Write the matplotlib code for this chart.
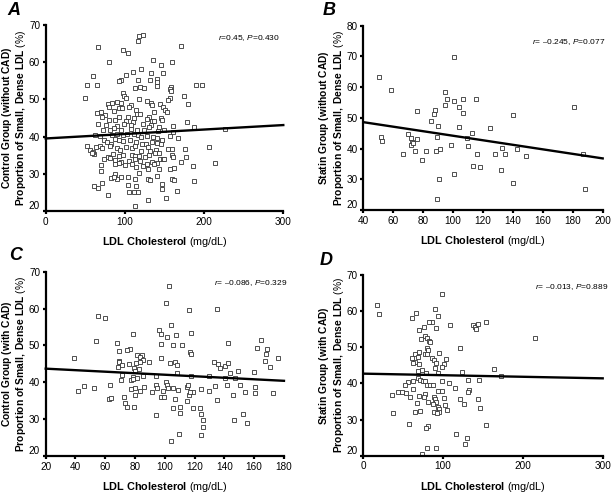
import numpy as np
import matplotlib
matplotlib.use("Agg")
import matplotlib.pyplot as plt

plt.rcParams['font.family'] = ['Liberation Sans', 'DejaVu Sans']
plt.rcParams['mathtext.fontset'] = 'custom'
plt.rcParams['mathtext.rm'] = 'Liberation Sans'
plt.rcParams['mathtext.bf'] = 'Liberation Sans:bold'
plt.rcParams['mathtext.it'] = 'Liberation Sans:italic'

# --- A: control group without CAD ---
a_ldl = [118, 123, 117, 66.5, 171, 98, 103.5, 135.5, 79.5, 159.5, 146, 120, 110.7, 132.5, 148, 101.4, 60.2,
         95.5, 92, 117, 132, 140, 140.5, 52, 64.5, 189.4, 197.8, 119, 124, 112.8, 158.6, 157.4, 158.6, 141,
         97.2, 99.3, 101.4, 175, 50, 157, 155, 118, 127.5, 78.3, 84, 90, 95, 107.7, 132.5, 133.8, 144.8, 180,
         80.4, 93, 96, 104.8, 147.7, 150.7, 152.8, 69.4, 64.4, 86.7, 114, 115.7, 119.5, 137, 75.3, 70.8, 93,
         103.5, 111, 130.4, 127.5, 146, 147.3, 80.4, 87.5, 101.8, 109.8, 133.8, 136.8, 66.5, 76.2, 98.9, 107.3,
         122.9, 133, 143.5, 161, 178, 187.7, 72.8, 81.2, 90.5, 86.7, 94.7, 107.3, 114.9, 124.1, 130.9, 141.4,
         149, 226, 62.3, 68.6, 83.3, 90.5, 97.2, 103.1, 112, 116.1, 120.3, 127.5, 135.9, 140.1, 147.3, 157,
         160.3, 167.5, 73.6, 77, 82.9, 88, 92.6, 98, 106.5, 114, 121.2, 126.2, 133.8, 141, 146, 52.6, 63.5,
         68.6, 70.7, 81.2, 90.5, 93.8, 101.4, 109, 112.8, 120.3, 129.2, 131.7, 139.3, 154.4, 159.9, 176.3,
         205.8, 56, 61.4, 60.2, 58.1, 79.1, 85.4, 92.6, 98, 109, 112.8, 117.8, 125.4, 130.9, 138.4, 142.6,
         144.7, 148, 149.8, 159, 161.2, 176.7, 170.8, 73.6, 81.2, 88, 95.1, 105.6, 112.8, 119, 127.5, 133.8,
         140, 69.8, 87.5, 93, 100.1, 109, 113.6, 122.5, 128.7, 137.2, 157.4, 162.4, 185.6, 214.2, 69.8, 82.5,
         88, 90.5, 86.7, 95.1, 104.4, 112.8, 117.8, 128.7, 131.7, 140.5, 143.5, 159.9, 162.4, 187.7, 70.7,
         61.4, 65.6, 146.4, 146.9, 165.4, 104.4, 114, 78.3, 105.2, 111.5, 116.1, 151.5, 129.6, 112.4]
a_sdldl = [67.1, 67.3, 65.7, 64.2, 64.4, 63.3, 62.4, 60.5, 60.1, 60.0, 59.3, 58.1, 57.4, 57.2, 57.1, 56.6, 56.4,
           55.2, 54.9, 55.2, 55.1, 55.5, 54.7, 53.9, 53.8, 53.9, 53.9, 53.4, 53.1, 53.0, 53.2, 52.7, 52.2, 53.6,
           51.8, 50.9, 50.4, 50.9, 50.3, 50.3, 49.8, 50.0, 49.6, 48.7, 48.9, 49.4, 48.9, 48.5, 49.1, 48.5, 48.7, 48.7,
           48.0, 47.8, 47.6, 48.0, 48.0, 47.1, 46.7, 46.7, 46.4, 46.9, 47.1, 46.2, 46.1, 46.7, 45.7, 45.3, 45.2,
           45.2, 44.9, 45.3, 44.8, 44.9, 44.4, 44.4, 44.4, 44.2, 44.0, 44.3, 44.3, 43.5, 43.1, 43.3, 43.2,
           43.4, 43.0, 42.7, 42.8, 43.8, 42.6, 41.9, 41.7, 42.8, 42.3, 41.9, 42.1, 41.7, 41.7, 42.6, 41.6,
           41.9, 42.0, 40.5, 40.1, 40.4, 40.7, 40.3, 40.8, 40.8, 40.4, 40.0, 40.1, 40.0, 39.5, 39.1, 40.1,
           41.2, 39.7, 39.2, 38.6, 38.0, 39.4, 39.1, 38.7, 39.1, 38.6, 38.1, 38.0, 38.6, 38.3, 37.9, 37.4, 37.3,
           37.4, 36.9, 37.5, 36.9, 36.4, 37.3, 37.0, 37.6, 36.2, 37.3, 36.2, 36.5, 36.6, 36.6, 36.6,
           37.3, 36.4, 35.3, 35.8, 35.5, 34.6, 35.3, 34.8, 35.0, 35.0, 34.8, 34.8, 34.6, 35.0, 35.6, 35.5,
           33.9, 33.9, 34.1, 35.0, 34.6, 34.4, 33.2, 33.9, 34.2, 33.7, 33.2, 33.4, 33.9, 33.4, 32.6, 33.1,
           32.8, 32.3, 32.6, 33.0, 32.3, 32.6, 31.9, 32.1, 31.4, 32.6, 31.4, 31.6, 32.1, 32.8, 30.8, 29.0,
           29.9, 28.7, 29.2, 29.2, 29.1, 28.7, 30.3, 28.6, 28.3, 29.4, 31.3, 28.7, 28.3, 28.0, 27.6,
           26.8, 26.1, 27.2, 25.9, 25.3, 26.9, 26.7, 24.3, 25.2, 25.2, 25.2, 23.6, 22.9, 21.3]

# --- B: statin group without CAD ---
b_ldl = [50.7, 100.8, 58.7, 94.8, 95.7, 94.8, 100.8, 106.4, 115.3, 103.7, 87.7, 87.2, 75.9, 106.4, 139.8, 181,
         85.4, 89.7, 103.7, 124.4, 69.6, 52, 52.7, 71.6, 72.5, 75.9, 89, 112.6, 109.1, 71.9, 73.4, 109.7,
         98.6, 74.3, 81.9, 66.7, 79.4, 88.8, 91.5, 132.9, 142.7, 116, 127.8, 134.5, 148.7, 186.6, 113.5,
         117.8, 100.8, 132, 90.8, 139.8, 188, 89]
b_sdldl = [63.4, 69.7, 59.1, 58.5, 56.2, 54.2, 55.6, 56.0, 56.2, 53.6, 52.6, 51.3, 52.2, 51.7, 51.0, 53.4,
           49.1, 47.4, 46.9, 46.7, 44.7, 43.9, 42.5, 43.3, 42.3, 43.1, 43.8, 45.2, 43.3, 41.2, 41.7, 41.0,
           41.3, 39.3, 39.3, 38.2, 36.3, 39.3, 39.9, 40.1, 39.9, 38.2, 38.2, 38.1, 37.6, 38.2, 34.3,
           34.1, 31.8, 33.0, 30.1, 28.9, 26.9, 23.5]

# --- C: control group with CAD ---
c_ldl = [102.8, 100.6, 116.2, 135, 55.1, 59.6, 104.1, 96.3, 97.4, 117.4, 107.3, 101.2, 78.4, 53.6, 111.3,
         105.3, 97.4, 67.7, 116.6, 117.7, 142.2, 164.6, 161.9, 168.8, 69.5, 76.6, 74.6, 81.1, 84.5, 83.6,
         167.8, 85.4, 83.1, 80.9, 76.2, 69, 69.5, 89.6, 97.4, 103.5, 106.8, 108, 133, 136, 137, 140.6,
         142.5, 149.4, 159.6, 167, 170.6, 175.8, 39.2, 68.3, 71.2, 79.3, 82.4, 71.3, 79.8, 78.9, 81.1, 85,
         94.1, 108, 117.6, 129.7, 143.6, 147.3, 140.4, 41.5, 45.5, 63.4, 70.4, 77.1, 78.9, 80, 77.1, 83.3,
         80, 86, 93.9, 94.6, 100.6, 101.2, 102.4, 105.3, 108.7, 98.6, 114.7, 115.8, 118.7, 124.5, 129.7,
         133.5, 141.6, 150.5, 153.8, 160.6, 160.6, 172.9, 145.8, 52.5, 91.7, 97.7, 99.7, 106.8, 116,
         117.1, 135.1, 62.3, 63.6, 72.6, 73.5, 74.4, 79.5, 94.3, 105.3, 110.2, 110.4, 118.7, 114.7, 123.6,
         124.5, 125.6, 125.6, 124.5, 146.7, 152.7, 155.4, 109.5, 104.1]
c_sdldl = [66.1, 61.4, 59.6, 59.9, 58.1, 57.4, 55.5, 54.1, 53.1, 53.5, 52.8, 52.4, 53.1, 51.1, 50.1,
           50.1, 50.3, 50.7, 48.3, 47.7, 50.7, 51.5, 49.2, 48.9, 48.6, 49.0, 48.8, 47.4, 47.4, 46.8,
           47.7, 46.1, 45.6, 45.2, 45.0, 45.9, 45.4, 45.4, 46.5, 45.3, 45.6, 44.7, 45.6, 45.0, 43.8, 44.5,
           45.3, 43.1, 42.9, 45.9, 44.1, 46.7, 46.7, 44.2, 44.7, 43.8, 43.6, 42.0, 43.1, 41.3, 41.2, 41.8,
           41.8, 42.4, 41.8, 41.8, 42.4, 41.2, 41.2, 37.7, 39.1, 39.4, 40.6, 40.6, 40.8, 38.5, 38.2, 37.6,
           36.5, 38.7, 39.4, 38.4, 40.0, 39.4, 38.5, 38.5, 37.9, 37.7, 38.8, 39.3, 37.3, 38.2, 37.6,
           38.9, 39.3, 39.4, 37.4, 38.8, 37.0, 37.0, 36.5, 38.5, 37.4, 35.9, 35.9, 35.4, 36.5,
           37.3, 35.2, 35.4, 35.8, 35.9, 34.3, 33.2, 33.2, 31.1, 32.9, 33.4, 31.8, 33.0, 35.0, 32.9,
           31.3, 29.8, 28.0, 25.7, 29.9, 31.3, 28.9, 25.9, 24.2]

# --- D: statin group with CAD ---
d_ldl = [98.2, 17.1, 20.1, 66, 61, 89.4, 93.2, 86.1, 81.9, 76.5, 69.4, 91.1, 108.6, 137.9, 140, 141.2, 143.7,
         154.2, 215.6, 77.7, 79.8, 72.3, 81.9, 83.6, 121.2, 79.4, 80.6, 70.2, 64.8, 61, 94.4, 77.3, 79.8,
         68.1, 65.2, 61.8, 85.7, 89, 91.1, 103.6, 100.7, 98.2, 70.2, 68.5, 89.4, 93.6, 74, 78.5, 123.4,
         164.2, 172.6, 56, 52.6, 62.7, 62.7, 68.5, 71.4, 75.2, 77.3, 79.4, 83.6, 86.9, 98.6, 107.8, 94,
         98.2, 114.9, 132.9, 131.6, 145.4, 130.8, 121.2, 126.6, 143.7, 145.8, 35.9, 43.9, 48, 53.5, 58.9,
         70.2, 77.3, 76.5, 89, 89.8, 91.1, 101.5, 67.3, 80.6, 86.9, 93.2, 102.8, 94.4, 95.3, 89, 92.3,
         104.5, 64.3, 71, 36.8, 56.8, 154.2, 81.5, 78.5, 116.1, 129.9, 127.4, 80.2, 91.1, 73.5]
d_sdldl = [64.8, 61.7, 59.2, 59.6, 58.2, 60.5, 58.7, 56.9, 56.9, 55.7, 54.8, 55.2, 56.3, 56.2, 55.7, 55.0, 56.5,
           57.1, 52.5, 53.2, 52.5, 52.3, 51.7, 51.4, 49.7, 49.9, 49.2, 48.6, 48.0, 46.9, 48.3, 48.0, 48.0,
           47.4, 46.0, 45.6, 46.9, 46.5, 45.6, 46.8, 45.5, 44.6, 45.3, 43.4, 44.2, 43.0, 43.7, 42.8, 43.2,
           44.0, 42.1, 40.5, 39.6, 40.7, 38.4, 41.6, 41.0, 40.7, 40.7, 39.6, 39.6, 39.6, 40.7, 40.2, 37.9,
           37.9, 38.6, 38.2, 40.9, 40.9, 37.5, 35.7, 34.2, 35.6, 33.3, 36.8, 37.7, 37.7, 37.3, 36.1,
           36.6, 37.0, 36.3, 36.3, 35.7, 34.9, 36.0, 34.5, 34.8, 34.2, 33.4, 34.0, 32.8, 32.0, 32.2, 31.9,
           32.6, 32.2, 32.5, 31.7, 28.8, 28.5, 28.2, 27.6, 26.1, 24.9, 23.2, 22.2, 22.0, 20.5]

# fitted lines: (intercept, slope)
a_fit = (39.5, 0.012)
b_fit = (51.55, -0.07375)
c_fit = (44.11, -0.0206)
d_fit = (42.7, -0.00433)

a_stat = "$r$=0.45, $P$=0.430"
b_stat = "$r$= \u20130.245, $P$=0.077"
c_stat = "$r$= \u20130.086, $P$=0.329"
d_stat = "$r$= \u20130.013, $P$=0.889"


def draw_panel(rect, letter, group, x, y, fit, stat, xlim, xticks, ylim, yticks, stat_pos, letter_pos):
    ax = fig.add_axes(rect)
    ax.plot(x, y, 's', ms=2.5, mfc='white', mec='#333333', mew=0.6, clip_on=False)
    xx = np.array(xlim)
    ax.plot(xx, fit[0] + fit[1] * xx, color='black', lw=1.7, clip_on=False)
    ax.set_xlim(xlim)
    ax.set_ylim(ylim)
    ax.set_xticks(xticks)
    ax.set_yticks(yticks)
    for s in ['top', 'right']:
        ax.spines[s].set_visible(False)
    for s in ['left', 'bottom']:
        ax.spines[s].set_linewidth(1.6)
    ax.tick_params(direction='out', length=2.5, width=1.6, labelsize=7.2, pad=1.5)
    ax.get_yticklabels()[0].set_va('bottom')
    ax.set_xlabel(r"$\bf{LDL\ Cholesterol}$ (mg/dL)", fontsize=7.8, labelpad=6)
    ax.set_ylabel(r"$\bf{" + group.replace(" ", r"\ ") + "}$\n"
                  + r"$\bf{Proportion\ of\ Small,\ Dense\ LDL}$ (%)",
                  fontsize=7.4, linespacing=1.05, labelpad=0.5)
    ax.text(stat_pos[0], stat_pos[1], stat, transform=ax.transAxes, ha='right', va='center',
            fontsize=6, clip_on=False)
    fig.text(letter_pos[0], letter_pos[1], letter, fontsize=13, fontweight='bold', fontstyle='italic',
             ha='center', va='center')
    return ax


fig = plt.figure(figsize=(6.12, 4.93), dpi=100)

draw_panel([0.0747, 0.572, 0.3882, 0.3773], "A", "Control Group (without CAD)", a_ldl, a_sdldl, a_fit, a_stat,
           (0, 300), [0, 100, 200, 300], (20, 70), [20, 30, 40, 50, 60, 70], (0.985, 0.93), (0.022, 0.978))
draw_panel([0.5936, 0.574, 0.3912, 0.3739], "B", "Statin Group (without CAD)", b_ldl, b_sdldl, b_fit, b_stat,
           (40, 200), list(range(40, 201, 20)), (20, 80), list(range(20, 81, 10)), (1.01, 0.91), (0.538, 0.978))
draw_panel([0.0747, 0.075, 0.3893, 0.3739], "C", "Control Group (with CAD)", c_ldl, c_sdldl, c_fit, c_stat,
           (20, 180), list(range(20, 181, 20)), (20, 70), [20, 30, 40, 50, 60, 70], (1.013, 0.94), (0.025, 0.482))
draw_panel([0.5936, 0.0757, 0.3912, 0.3665], "D", "Statin Group (with CAD)", d_ldl, d_sdldl, d_fit, d_stat,
           (0, 300), [0, 100, 200, 300], (20, 70), [20, 30, 40, 50, 60, 70], (1.022, 0.935), (0.533, 0.472))

fig.savefig("out.png", dpi=100)
